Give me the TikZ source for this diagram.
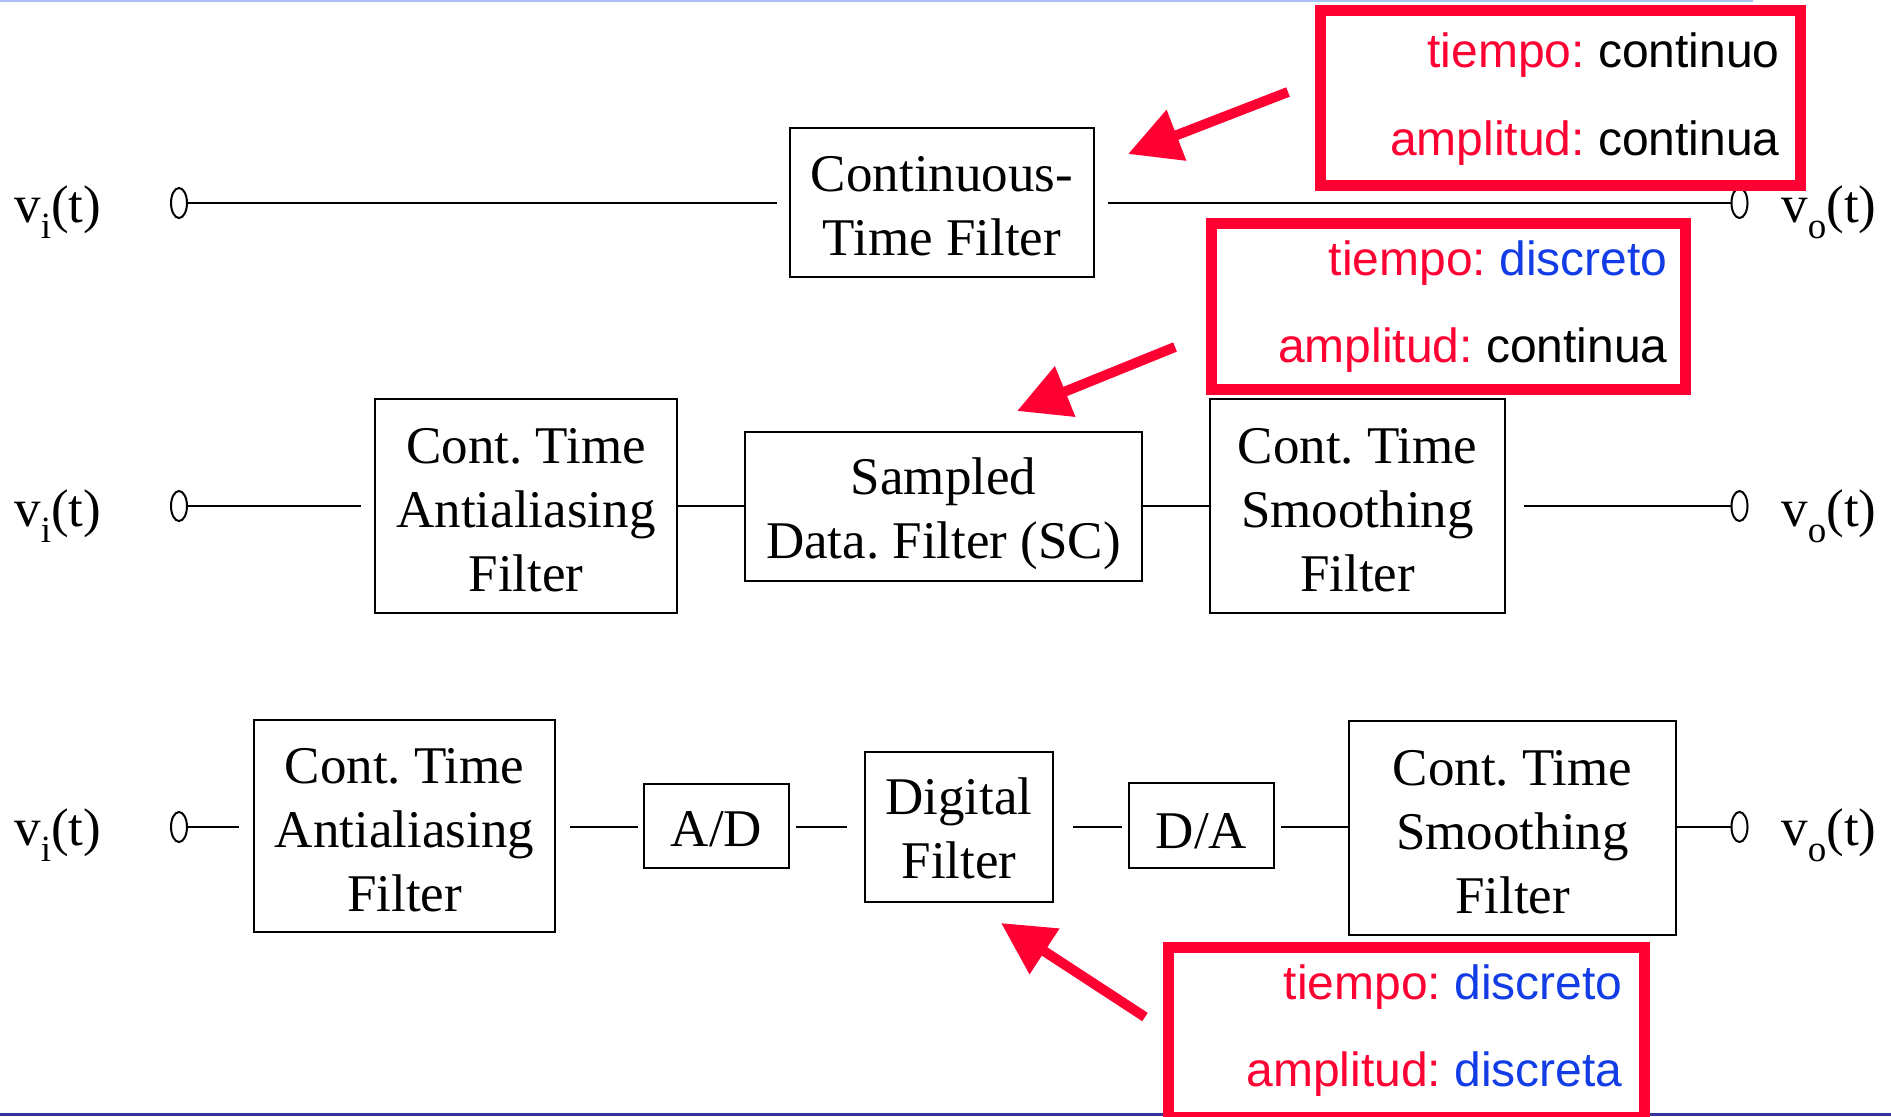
\documentclass[tikz,border=0pt]{standalone}
\usepackage{fontspec}
\setmainfont{Liberation Serif}
\newfontfamily\labelsans{Liberation Sans}
\usetikzlibrary{arrows.meta,shapes.geometric}
\frenchspacing

\definecolor{alertred}{RGB}{255,0,51}
\definecolor{noteblue}{RGB}{18,60,230}
\definecolor{rulelight}{RGB}{168,192,244}
\definecolor{rulenavy}{RGB}{51,51,153}

% subscript of the signal names v_i(t), v_o(t)
\newcommand\sigsub[1]{\raisebox{-0.32em}{\fontsize{18.5}{20}\selectfont #1}}
% invisible strut that sets the height of a block's first line
\newcommand\padtop[1]{\rule{0pt}{#1pt}}

\begin{document}
\begin{tikzpicture}[x=0.5pt,y=-0.5pt,
  block/.style={draw,line width=1.2pt,inner sep=0pt,align=center,
    font=\fontsize{26.5}{32}\selectfont},
  port/.style={draw,ellipse,line width=1pt,minimum width=8pt,
    minimum height=15pt,inner sep=0pt},
  wire/.style={line width=1pt},
  sig/.style={font=\fontsize{26.5}{32}\selectfont,inner sep=0pt,anchor=base west},
  notebox/.style={draw=alertred,line width=5.5pt,inner sep=0pt},
  note/.style={font=\labelsans\fontsize{24}{28}\selectfont,inner sep=0pt,anchor=base east},
  pointer/.style={draw=alertred,line width=5pt,-{Triangle[length=26pt,width=26pt]}}
]
\useasboundingbox (0,0) rectangle (1891,1116);

% slide rules
\draw[rulelight,line width=1pt] (0,1) -- (1753,1);
\draw[rulenavy,line width=1.5pt] (0,1114.5) -- (1891,1114.5);

% ---------- continuous-time path ----------
\node[sig] (vi1) at (14,222) {v\sigsub{i}(t)};
\node[port] (p1in) at (179,203) {};
\node[block,minimum width=152pt,minimum height=74.5pt] (ctf) at (942,202.5)
  {\padtop{21.7}Continuous-\\Time Filter};
\node[port] (p1out) at (1739.5,203) {};
\node[sig] (vo1) at (1781,222) {v\sigsub{o}(t)};
\draw[wire,shorten >=6pt] (p1in.east) -- (p1in.east -| ctf.west);
\draw[wire,shorten <=6.5pt] (p1out.west -| ctf.east) -- (p1out.west);

% ---------- sampled-data path ----------
\node[sig] (vi2) at (14,526) {v\sigsub{i}(t)};
\node[port] (p2in) at (179,506) {};
\node[block,minimum width=151pt,minimum height=107pt] (aa1) at (526,506)
  {\padtop{21.7}Cont. Time\\Antialiasing\\Filter};
\node[block,minimum width=198.5pt,minimum height=74.5pt] (sdf) at (943.5,506.5)
  {\padtop{25.3}Sampled\\Data. Filter (SC)};
\node[block,minimum width=147.5pt,minimum height=107pt] (sm1) at (1357.5,506)
  {\padtop{21.7}Cont. Time\\Smoothing\\Filter};
\node[port] (p2out) at (1739.5,506) {};
\node[sig] (vo2) at (1781,526) {v\sigsub{o}(t)};
\draw[wire,shorten >=6.5pt] (p2in.east) -- (p2in.east -| aa1.west);
\draw[wire] (p2in.east -| aa1.east) -- (p2in.east -| sdf.west);
\draw[wire] (p2in.east -| sdf.east) -- (p2in.east -| sm1.west);
\draw[wire,shorten <=9pt] (p2out.west -| sm1.east) -- (p2out.west);

% ---------- digital path ----------
\node[sig] (vi3) at (14,845) {v\sigsub{i}(t)};
\node[port] (p3in) at (179,827) {};
\node[block,minimum width=150.5pt,minimum height=106pt] (aa2) at (404.5,826)
  {\padtop{21.7}Cont. Time\\Antialiasing\\Filter};
\node[block,minimum width=72.5pt,minimum height=42pt] (adc) at (716.5,826)
  {\padtop{20.5}A/D};
\node[block,minimum width=94pt,minimum height=75pt] (df) at (959,827)
  {\padtop{19.3}Digital\\Filter};
\node[block,minimum width=72.5pt,minimum height=42.5pt] (dac) at (1201.5,825.5)
  {\padtop{22.9}D/A};
\node[block,minimum width=163.5pt,minimum height=107pt] (sm2) at (1512.5,828)
  {\padtop{21.7}Cont. Time\\Smoothing\\Filter};
\node[port] (p3out) at (1739.5,827) {};
\node[sig] (vo3) at (1781,845) {v\sigsub{o}(t)};
\draw[wire,shorten >=7pt] (p3in.east) -- (p3in.east -| aa2.west);
\draw[wire,shorten <=7pt,shorten >=2.5pt] (p3in.east -| aa2.east) -- (p3in.east -| adc.west);
\draw[wire,shorten <=3pt,shorten >=8.5pt] (p3in.east -| adc.east) -- (p3in.east -| df.west);
\draw[wire,shorten <=9.5pt,shorten >=3pt] (p3in.east -| df.east) -- (p3in.east -| dac.west);
\draw[wire,shorten <=3pt] (p3in.east -| dac.east) -- (p3in.east -| sm2.west);
\draw[wire] (p3out.west -| sm2.east) -- (p3out.west);

% ---------- annotations ----------
\node[notebox,minimum width=240pt,minimum height=87.5pt] (n1) at (1560,97.5) {};
\node[note] (n1t) at (1780,67.5) {\textcolor{alertred}{tiempo:} continuo};
\node[note] (n1a) at (1780,155.5) {\textcolor{alertred}{amplitud:} continua};

\node[notebox,minimum width=237pt,minimum height=83pt] (n2) at (1448,306) {};
\node[note] (n2t) at (1668,275.5) {\textcolor{alertred}{tiempo:} \textcolor{noteblue}{discreto}};
\node[note] (n2a) at (1668,362.5) {\textcolor{alertred}{amplitud:} continua};

\node[notebox,minimum width=238pt,minimum height=85pt] (n3) at (1406,1032) {};
\node[note] (n3t) at (1623,999.5) {\textcolor{alertred}{tiempo:} \textcolor{noteblue}{discreto}};
\node[note] (n3a) at (1623,1086.5) {\textcolor{alertred}{amplitud:} \textcolor{noteblue}{discreta}};

% pointers from the notes to the filters
\coordinate (a1from) at (1288,92);
\coordinate (a1to) at (1128,154);
\coordinate (a2from) at (1175,347);
\coordinate (a2to) at (1017,411);
\coordinate (a3from) at (1145,1017);
\coordinate (a3to) at (1001,923);
\draw[pointer] (a1from) -- (a1to);
\draw[pointer] (a2from) -- (a2to);
\draw[pointer] (a3from) -- (a3to);
\end{tikzpicture}
\end{document}
